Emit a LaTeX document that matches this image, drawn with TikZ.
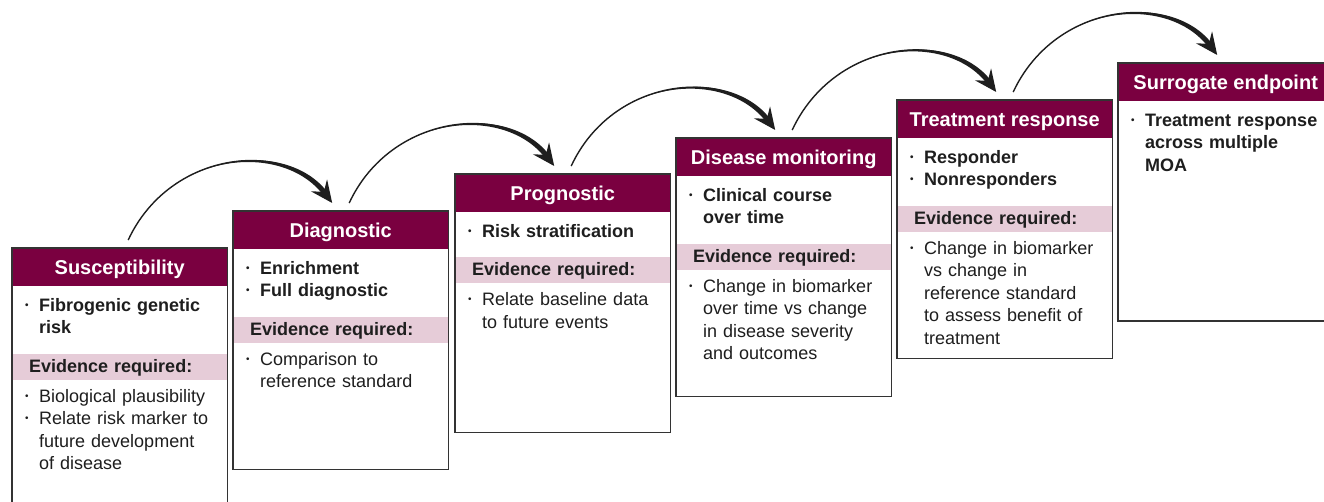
\documentclass[tikz,border=0pt]{standalone}
\usepackage{fontspec}
\setmainfont{Liberation Sans}
\usetikzlibrary{positioning,arrows.meta}

\definecolor{wine}{HTML}{7A0040}
\definecolor{blush}{HTML}{E6CCD8}
\definecolor{ink}{HTML}{1E1E1E}
\definecolor{rimgray}{HTML}{333333}

% one bullet point, wrapped lines stay under the text
\newcommand{\itm}[1]{\noindent\makebox[17pt][l]{\hspace{3pt}\raisebox{3pt}{\scalebox{0.55}{\textbullet}}}%
  \parbox[t]{178pt}{\raggedright\strut#1\strut}\par}

\tikzset{
  stage/.style={anchor=north west, minimum width=215pt, minimum height=258pt, inner sep=0pt, fill=white},
  head/.style={anchor=north, fill=wine, text=white, minimum width=215pt, minimum height=38pt, inner sep=0pt,
    font=\fontsize{20}{24}\selectfont\bfseries, text height=15pt, text depth=1pt},
  hits/.style={text width=195pt, inner sep=0pt, align=left, text=ink, font=\fontsize{18}{22.5}\selectfont\bfseries},
  notes/.style={hits, font=\fontsize{18}{22.5}\selectfont},
  band/.style={fill=blush, minimum width=215pt, minimum height=26pt, inner xsep=17pt, inner ysep=0pt,
    text width=181pt, align=left, text=ink, text height=13pt, text depth=2pt,
    font=\fontsize{18}{22.5}\selectfont\bfseries},
  rim/.style={draw=rimgray, line width=1.8pt},
  flow/.style={ink, line width=1.4pt, -{Stealth[length=22pt,width=20pt,inset=8pt]}}
}

\begin{document}
\begin{tikzpicture}[x=1pt, y=-1pt]
\useasboundingbox (0,0) rectangle (1324,502);
\clip (0,0) rectangle (1324,502);

% susceptibility
\node[stage] (sus) at (12,248) {};
\node[head] (sus-h) at (sus.north) {Susceptibility};
\node[hits, below=9pt of sus-h] (sus-a) {\itm{Fibrogenic genetic\newline risk}};
\node[band, below=13pt of sus-a] (sus-e) {Evidence required:};
\node[notes, below=6pt of sus-e] (sus-b) {\itm{Biological plausibility}\itm{Relate risk marker to\newline future development\newline of disease}};

% diagnostic
\node[stage] (dia) at (233,211) {};
\node[head] (dia-h) at (dia.north) {Diagnostic};
\node[hits, below=9pt of dia-h] (dia-a) {\itm{Enrichment}\itm{Full diagnostic}};
\node[band, below=13pt of dia-a] (dia-e) {Evidence required:};
\node[notes, below=6pt of dia-e] (dia-b) {\itm{Comparison to\newline reference standard}};

% prognostic
\node[stage] (pro) at (455,174) {};
\node[head] (pro-h) at (pro.north) {Prognostic};
\node[hits, below=9pt of pro-h] (pro-a) {\itm{Risk stratification}};
\node[band, below=13pt of pro-a] (pro-e) {Evidence required:};
\node[notes, below=6pt of pro-e] (pro-b) {\itm{Relate baseline data\newline to future events}};

% disease monitoring
\node[stage] (mon) at (676,138) {};
\node[head] (mon-h) at (mon.north) {Disease monitoring};
\node[hits, below=9pt of mon-h] (mon-a) {\itm{Clinical course\newline over time}};
\node[band, below=13pt of mon-a] (mon-e) {Evidence required:};
\node[notes, below=6pt of mon-e] (mon-b) {\itm{Change in biomarker\newline over time vs change\newline in disease severity\newline and outcomes}};

% treatment response
\node[stage] (tre) at (897,100) {};
\node[head] (tre-h) at (tre.north) {Treatment response};
\node[hits, below=9pt of tre-h] (tre-a) {\itm{Responder}\itm{Nonresponders}};
\node[band, below=13pt of tre-a] (tre-e) {Evidence required:};
\node[notes, below=6pt of tre-e] (tre-b) {\itm{Change in biomarker\newline vs change in\newline reference standard\newline to assess benefit of\newline treatment}};

% surrogate endpoint
\node[stage] (sur) at (1118,63) {};
\node[head] (sur-h) at (sur.north) {Surrogate endpoint};
\node[hits, below=9pt of sur-h] (sur-a) {\itm{Treatment response\newline across multiple\newline MOA}};

\foreach \n in {sus,dia,pro,mon,tre,sur}
  \draw[rim] (\n.north west) rectangle (\n.south east);

% curved arrows, thin at the start and thick near the head
\foreach \a/\b in {sus/dia, dia/pro, pro/mon, mon/tre, tre/sur} {
  \coordinate (\a-out) at ([shift={(8.5,-8)}]\a.north);
  \coordinate (\b-in) at ([shift={(-8.5,-8)}]\b.north);
  \fill[ink] (\a-out) .. controls +(42,-90) and +(-40,-53) .. ([shift={(-5,-11)}]\b-in)
    -- ([shift={(-9,-8)}]\b-in) .. controls +(-40,-53) and +(42,-90) .. (\a-out) -- cycle;
  \draw[flow] (\a-out) .. controls +(42,-90) and +(-47,-63) .. (\b-in);
}

\end{tikzpicture}
\end{document}
